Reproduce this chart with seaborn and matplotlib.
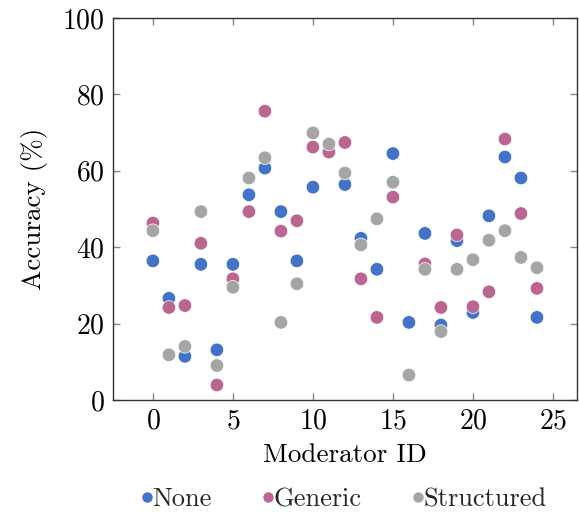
import matplotlib
matplotlib.use("Agg")
import matplotlib.pyplot as plt
import seaborn as sns
import pandas as pd

moderator_ids = list(range(25))
none_vals = [36.4, 26.6, 11.4, 35.5, 13.1, 35.5, 53.7, 60.7, 49.3, 36.4, 55.7, 65.0, 56.4,
             42.3, 34.2, 64.5, 20.3, 43.6, 19.6, 41.7, 22.9, 48.2, 63.6, 58.1, 21.6]
generic_vals = [46.3, 24.2, 24.7, 41.0, 3.9, 31.7, 49.3, 75.6, 44.2, 46.9, 66.2, 64.9, 67.4,
                31.7, 21.6, 53.1, 6.5, 35.6, 24.2, 43.2, 24.4, 28.3, 68.3, 48.8, 29.2]
structured_vals = [44.3, 11.8, 14.0, 49.3, 9.0, 29.5, 58.1, 63.4, 20.3, 30.4, 69.9, 67.0, 59.4,
                   40.6, 47.4, 57.0, 6.5, 34.2, 17.9, 34.2, 36.7, 41.8, 44.3, 37.3, 34.6]
series_names = ["None", "Generic", "Structured"]
colors = ["#4472c4", "#bb6592", "#a5a5a5"]

df = pd.concat([
    pd.DataFrame({"Moderator ID": moderator_ids, "Accuracy": v, "Prompt": n})
    for n, v in zip(series_names, [none_vals, generic_vals, structured_vals])
], ignore_index=True)

sns.set_style("white")
plt.rcParams["font.family"] = "serif"
plt.rcParams["font.serif"] = ["cmr10"]
plt.rcParams["mathtext.fontset"] = "cm"
plt.rcParams["axes.formatter.use_mathtext"] = True

fig = plt.figure(figsize=(5.79, 5.14), dpi=100)
ax = fig.add_axes([0.195, 0.222, 0.8015, 0.743])
sns.scatterplot(data=df, x="Moderator ID", y="Accuracy", hue="Prompt",
                palette=dict(zip(series_names, colors)), s=95, edgecolor="white",
                linewidth=0.5, ax=ax, legend=False, zorder=3)

ax.set_xlim(-2.5, 26.5)
ax.set_ylim(0, 100)
ax.set_xticks([0, 5, 10, 15, 20, 25])
ax.set_yticks([0, 20, 40, 60, 80, 100])
ax.tick_params(axis="both", which="both", direction="in", length=5, color="#888888",
               labelsize=20, top=True, right=True, bottom=True, left=True, width=1,
               pad=6, labelcolor="black")
for sp in ax.spines.values():
    sp.set_color("#333333")
    sp.set_linewidth(1.0)
ax.set_xlabel("Moderator ID", fontsize=19.5, labelpad=6, color="black")
ax.set_ylabel("Accuracy (%)", fontsize=19.5, labelpad=10, color="black")

handles = [plt.Line2D([], [], marker="o", linestyle="", color=c, markersize=6.5) for c in colors]
fig.legend(handles, series_names, loc="center", bbox_to_anchor=(0.588, 0.028), ncol=3,
           frameon=False, fontsize=19, handletextpad=-0.3, columnspacing=1.65,
           handlelength=1.0, borderpad=0.0)

fig.savefig("out.png", dpi=100)
